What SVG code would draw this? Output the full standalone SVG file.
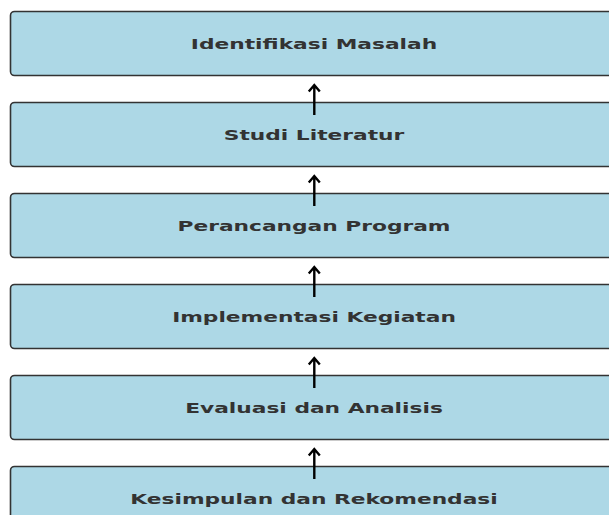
<svg xmlns="http://www.w3.org/2000/svg" width="609" height="515" viewBox="0 0 609 515">
<style>
.box{fill:#add8e6;stroke:#333;stroke-width:1.6}
.lbl{font-family:"DejaVu Sans",sans-serif;font-weight:bold;font-size:14.5px;fill:#333;text-anchor:middle}
.arr{fill:none;stroke:#000;stroke-width:2.4}
</style>
<rect width="609" height="515" fill="#fff"/>
<g id="n1"><rect class="box" x="10.5" y="11.5" width="620" height="64" rx="4"/><text class="lbl" transform="translate(314,48.5) scale(1.5,1)">Identifikasi Masalah</text></g>
<g id="n2"><rect class="box" x="10.5" y="102.5" width="620" height="64" rx="4"/><text class="lbl" transform="translate(314,139.5) scale(1.5,1)">Studi Literatur</text></g>
<g id="n3"><rect class="box" x="10.5" y="193.5" width="620" height="64" rx="4"/><text class="lbl" transform="translate(314,230.5) scale(1.5,1)">Perancangan Program</text></g>
<g id="n4"><rect class="box" x="10.5" y="284.5" width="620" height="64" rx="4"/><text class="lbl" transform="translate(314,321.5) scale(1.5,1)">Implementasi Kegiatan</text></g>
<g id="n5"><rect class="box" x="10.5" y="375.5" width="620" height="64" rx="4"/><text class="lbl" transform="translate(314,412.5) scale(1.5,1)">Evaluasi dan Analisis</text></g>
<g id="n6"><rect class="box" x="10.5" y="466.5" width="620" height="64" rx="4"/><text class="lbl" transform="translate(314,503.5) scale(1.5,1)">Kesimpulan dan Rekomendasi</text></g>
<g id="connectors">
<g class="arr">
<path d="M314.3,115 V85.5 M308.8,91.5 L314.3,85 L319.8,91.5"/>
<path d="M314.3,206 V176.5 M308.8,182.5 L314.3,176 L319.8,182.5"/>
<path d="M314.3,297 V267.5 M308.8,273.5 L314.3,267 L319.8,273.5"/>
<path d="M314.3,388 V358.5 M308.8,364.5 L314.3,358 L319.8,364.5"/>
<path d="M314.3,479 V449.5 M308.8,455.5 L314.3,449 L319.8,455.5"/>
</g>
</g>
</svg>
